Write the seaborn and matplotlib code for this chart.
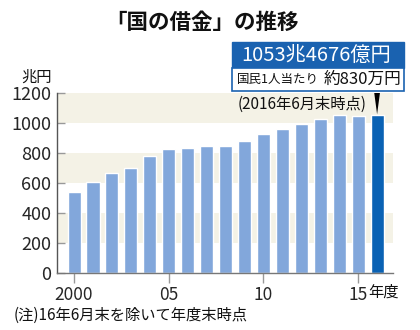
import matplotlib
matplotlib.use("Agg")
import matplotlib.pyplot as plt
import seaborn as sns
import pandas as pd
from matplotlib.patches import Rectangle, Polygon

years = ["2000", "2001", "2002", "2003", "2004", "2005", "2006", "2007", "2008",
         "2009", "2010", "2011", "2012", "2013", "2014", "2015", "2016/6"]
debt = [538, 607, 668, 703, 782, 827, 834, 849, 846, 883, 924, 960, 991, 1025, 1053, 1049, 1053]
kind = ["fy"] * 16 + ["latest"]
tick_pos = [0, 5, 10, 15]
tick_labels = ["2000", "05", "10", "15"]
y_ticks = [0, 200, 400, 600, 800, 1000, 1200]

title = "「国の借金」の推移"
box_main = "1053兆4676億円"
box_sub1 = "国民1人当たり"
box_sub2 = "約830万円"
as_of = "(2016年6月末時点)"
note = "(注)16年6月末を除いて年度末時点"

sns.set_theme(style="white")
plt.rcParams['font.family'] = ['Noto Sans CJK JP', 'DejaVu Sans']

W, H = 420, 330
fig = plt.figure(figsize=(4.2, 3.3), dpi=100)
ax = fig.add_axes([57 / W, 1 - 273 / H, (393 - 57) / W, (273 - 93) / H])

beige = "#f4f2e6"
for lo in [200, 600, 1000]:
    ax.axhspan(lo, lo + 200, color=beige, zorder=0, lw=0)

df = pd.DataFrame({"year": years, "debt": debt, "kind": kind})
sns.barplot(data=df, x="year", y="debt", hue="kind",
            palette={"fy": "#82a7db", "latest": "#0a62b4"},
            width=0.69, saturation=1, legend=False, ax=ax, zorder=2)

ax.set_ylim(0, 1200)
ax.set_xlim(-0.9, 16.84)
ax.set_yticks(y_ticks)
ax.set_yticklabels([str(v) for v in y_ticks], fontsize=13)
ax.set_xticks(tick_pos)
ax.set_xticklabels(tick_labels, fontsize=12.5)
ax.set_xlabel("")
ax.set_ylabel("")
ax.tick_params(axis="y", direction="in", length=6, color="#999999", width=1, pad=4, left=True)
ax.tick_params(axis="x", direction="out", length=7, color="#999999", width=1, pad=2, bottom=True)
for s in ["top", "right"]:
    ax.spines[s].set_visible(False)
ax.spines["left"].set_color("#555555")
ax.spines["bottom"].set_color("#777777")
ax.spines["left"].set_linewidth(1)
ax.spines["bottom"].set_linewidth(1)
ax.set_facecolor("white")

# pointer triangle to latest bar
last = len(debt) - 1
tri = Polygon([(last - 0.15, 1200), (last + 0.15, 1200), (last, debt[last] + 5)],
              closed=True, facecolor="black", edgecolor="none", zorder=5, clip_on=False)
ax.add_patch(tri)

# annotation boxes
fig.patches.append(Rectangle((232 / W, 1 - 68 / H), 172 / W, 26 / H,
                             transform=fig.transFigure, facecolor="#1a62b0",
                             edgecolor="#1a62b0", lw=1, zorder=3))
fig.patches.append(Rectangle((232 / W, 1 - 91 / H), 172 / W, 23 / H,
                             transform=fig.transFigure, facecolor="white",
                             edgecolor="#1a62b0", lw=1.2, zorder=3))
fig.text(316 / W, 1 - 55 / H, box_main, color="white", fontsize=14.5,
         ha="center", va="center", zorder=4)
fig.text(237 / W, 1 - 79.5 / H, box_sub1, color="#111111", fontsize=9,
         ha="left", va="center", zorder=4)
fig.text(401 / W, 1 - 79.5 / H, box_sub2, color="#111111", fontsize=12,
         ha="right", va="center", zorder=4)
fig.text(238 / W, 1 - 104 / H, as_of, color="#111111", fontsize=11,
         ha="left", va="center", zorder=4)

fig.text(202 / W, 1 - 22 / H, title, fontsize=15.5, fontweight="bold",
         ha="center", va="center", color="#111111")
fig.text(52 / W, 1 - 77 / H, "兆円", fontsize=11, ha="right", va="center", color="#111111")
fig.text(368 / W, 1 - 292 / H, "年度", fontsize=11, ha="left", va="center", color="#111111")
fig.text(14 / W, 1 - 315 / H, note, fontsize=11, ha="left", va="center", color="#111111")

fig.savefig("out.png", dpi=100, facecolor="white")
